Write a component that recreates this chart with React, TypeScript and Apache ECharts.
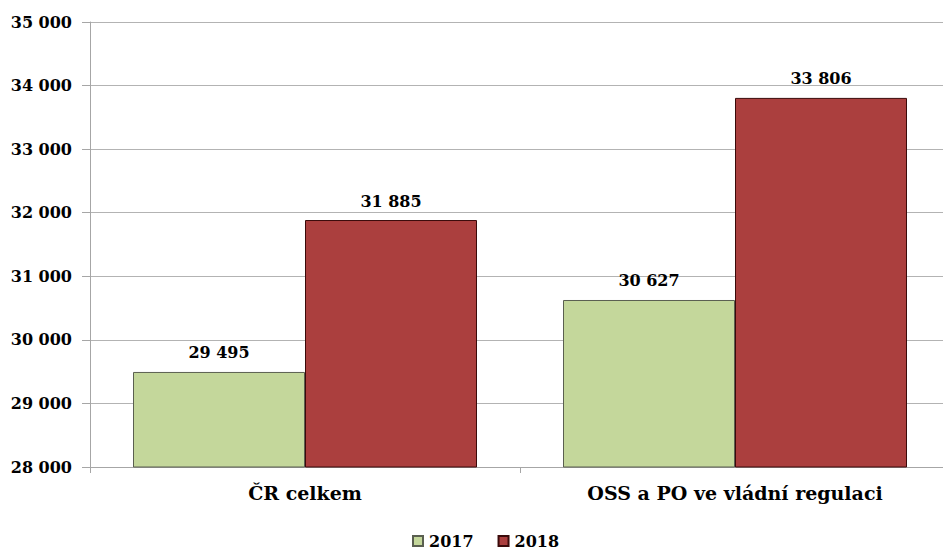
import React, { useEffect, useRef } from "react";
import * as echarts from "echarts";

const categories = ["ČR celkem", "OSS a PO ve vládní regulaci"];
const seriesNames = ["2017", "2018"];
const values2017 = [29495, 30627];
const values2018 = [31885, 33806];
const yMin = 28000;
const yMax = 35000;
const yStep = 1000;

const fmt = (v: number) => String(v).replace(/\B(?=(\d{3})+(?!\d))/g, " ");
const FONT = "DejaVu Serif";

export default function App() {
  const ref = useRef<HTMLDivElement>(null);
  useEffect(() => {
    document.body.style.margin = "0";
    const chart = echarts.init(ref.current!, null, { renderer: "svg" });
    const labelStyle = {
      show: true,
      position: "top" as const,
      distance: 11,
      fontFamily: FONT,
      fontWeight: "bold" as const,
      fontSize: 16,
      color: "#000",
      formatter: (p: any) => fmt(p.value),
    };
    chart.setOption({
      animation: false,
      backgroundColor: "#fff",
      grid: { left: 90, top: 22, width: 860, height: 445, containLabel: false, outerBoundsMode: "none" },
      legend: {
        data: seriesNames,
        left: 412,
        top: 533,
        padding: 0,
        icon: "rect",
        itemWidth: 10,
        itemHeight: 10,
        itemGap: 24,
        textStyle: { fontFamily: FONT, fontWeight: "bold", fontSize: 16, color: "#000", padding: [0, 0, 0, 1] },
      },
      xAxis: {
        type: "category",
        data: categories,
        axisLine: { lineStyle: { color: "#a6a6a6", width: 1 } },
        axisTick: { show: true, length: 6, lineStyle: { color: "#a6a6a6" } },
        axisLabel: { fontFamily: FONT, fontWeight: "bold", fontSize: 19, color: "#000", margin: 16 },
      },
      yAxis: {
        type: "value",
        min: yMin,
        max: yMax,
        interval: yStep,
        axisLine: { show: true, lineStyle: { color: "#a6a6a6" } },
        axisTick: { show: true, inside: false, length: 8, lineStyle: { color: "#a6a6a6" } },
        splitLine: { lineStyle: { color: "#b3b3b3" } },
        axisLabel: {
          fontFamily: FONT,
          fontWeight: "bold",
          fontSize: 16,
          color: "#000",
          margin: 18,
          formatter: (v: number) => fmt(v),
        },
      },
      series: [
        {
          name: seriesNames[0],
          type: "bar",
          data: values2017,
          barGap: "0%",
          barCategoryGap: "20%",
          itemStyle: { color: "#c4d79b", borderColor: "#5a5f50", borderWidth: 1 },
          label: labelStyle,
        },
        {
          name: seriesNames[1],
          type: "bar",
          data: values2018,
          barGap: "0%",
          barCategoryGap: "20%",
          itemStyle: { color: "#ab3f3e", borderColor: "#3a0a0a", borderWidth: 1 },
          label: labelStyle,
        },
      ],
    });
    return () => chart.dispose();
  }, []);
  return <div ref={ref} style={{ width: 943, height: 549 }} />;
}
